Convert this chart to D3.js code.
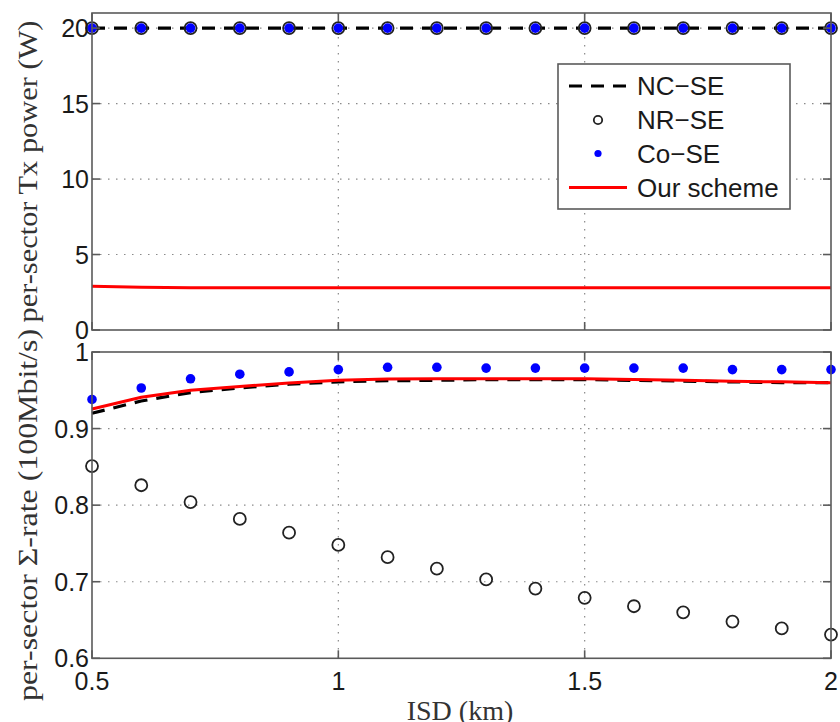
<!DOCTYPE html>
<html>
<head>
<meta charset="utf-8">
<script src="https://cdn.jsdelivr.net/npm/d3@7"></script>
<style>
  html, body { margin: 0; padding: 0; background: #fff; }
  svg { display: block; }
</style>
</head>
<body>
<script>
// ISD sweep (km)
const isd = [0.5, 0.6, 0.7, 0.8, 0.9, 1.0, 1.1, 1.2, 1.3, 1.4, 1.5, 1.6, 1.7, 1.8, 1.9, 2.0];

// Per-sector Tx power (W)
const powerNC  = [20, 20, 20, 20, 20, 20, 20, 20, 20, 20, 20, 20, 20, 20, 20, 20];
const powerNR  = [20, 20, 20, 20, 20, 20, 20, 20, 20, 20, 20, 20, 20, 20, 20, 20];
const powerCo  = [20, 20, 20, 20, 20, 20, 20, 20, 20, 20, 20, 20, 20, 20, 20, 20];
const powerOur = [2.9, 2.83, 2.8, 2.8, 2.8, 2.8, 2.8, 2.8, 2.8, 2.8, 2.8, 2.8, 2.8, 2.8, 2.8, 2.8];

// Per-sector sum rate (100 Mbit/s)
const rateNC  = [0.920, 0.936, 0.947, 0.953, 0.958, 0.961, 0.9625, 0.963, 0.964, 0.964, 0.964, 0.963, 0.962, 0.961, 0.960, 0.960];
const rateNR  = [0.851, 0.826, 0.804, 0.782, 0.764, 0.748, 0.732, 0.717, 0.703, 0.691, 0.679, 0.668, 0.660, 0.648, 0.639, 0.631];
const rateCo  = [0.938, 0.953, 0.965, 0.971, 0.974, 0.977, 0.980, 0.980, 0.979, 0.979, 0.979, 0.979, 0.979, 0.977, 0.977, 0.977];
const rateOur = [0.9256, 0.941, 0.950, 0.955, 0.9595, 0.963, 0.9647, 0.965, 0.965, 0.965, 0.965, 0.964, 0.963, 0.9617, 0.961, 0.960];

// Axis ticks
const xTicks = [0.5, 1, 1.5, 2];
const xTickLabels = ["0.5", "1", "1.5", "2"];
const powerTicks = [0, 5, 10, 15, 20];
const rateTicks = [0.6, 0.7, 0.8, 0.9, 1];
const rateTickLabels = ["0.6", "0.7", "0.8", "0.9", "1"];

const legendNames = ["NC\u2212SE", "NR\u2212SE", "Co\u2212SE", "Our scheme"];

const W = 840, H = 722;
const svg = d3.select("body").append("svg").attr("width", W).attr("height", H);

const left = 92, right = 831;
const x = d3.scaleLinear().domain([0.5, 2]).range([left, right]);

const tickFont = "'Liberation Sans', Arial, Helvetica, sans-serif";
const serif = "'Liberation Serif', 'Times New Roman', serif";
const axisColor = "#5a5a5a";
const gridColor = "#8a8a8a";
const textColor = "#1a1a1a";

function panel(top, bottom, yDomain, yTicks, yLabels, gridY, series) {
  const y = d3.scaleLinear().domain(yDomain).range([bottom, top]);
  const g = svg.append("g");

  // dotted grid
  const gridX = [1, 1.5];
  g.selectAll(".gx").data(gridX).enter().append("line")
    .attr("x1", d => x(d)).attr("x2", d => x(d))
    .attr("y1", top).attr("y2", bottom)
    .attr("stroke", gridColor).attr("stroke-width", 1.2)
    .attr("stroke-dasharray", "1.5,6.5");
  g.selectAll(".gy").data(gridY).enter().append("line")
    .attr("x1", left).attr("x2", right)
    .attr("y1", d => y(d)).attr("y2", d => y(d))
    .attr("stroke", gridColor).attr("stroke-width", 1.2)
    .attr("stroke-dasharray", "1.5,6.5");

  // data
  const pts = (vals) => isd.map((v, i) => [v, vals[i]]);
  const line = d3.line().x(d => x(d[0])).y(d => y(d[1]));

  g.append("path").datum(pts(series.nc))
    .attr("d", line).attr("fill", "none")
    .attr("stroke", "#000").attr("stroke-width", 3.2)
    .attr("stroke-dasharray", "13,9");

  g.selectAll(".nr").data(pts(series.nr)).enter().append("circle")
    .attr("cx", d => x(d[0])).attr("cy", d => y(d[1])).attr("r", 6)
    .attr("fill", "none").attr("stroke", "#222").attr("stroke-width", 1.8);

  g.selectAll(".co").data(pts(series.co)).enter().append("circle")
    .attr("cx", d => x(d[0])).attr("cy", d => y(d[1])).attr("r", 4.8)
    .attr("fill", "#0000ff");

  g.append("path").datum(pts(series.our))
    .attr("d", line).attr("fill", "none")
    .attr("stroke", "#ff0000").attr("stroke-width", 3);

  // box
  g.append("rect").attr("x", left).attr("y", top)
    .attr("width", right - left).attr("height", bottom - top)
    .attr("fill", "none").attr("stroke", axisColor).attr("stroke-width", 1.6);

  // inner ticks on all four sides
  const tl = 8;
  xTicks.forEach(t => {
    g.append("line").attr("x1", x(t)).attr("x2", x(t)).attr("y1", bottom).attr("y2", bottom - tl)
      .attr("stroke", axisColor).attr("stroke-width", 1.6);
    g.append("line").attr("x1", x(t)).attr("x2", x(t)).attr("y1", top).attr("y2", top + tl)
      .attr("stroke", axisColor).attr("stroke-width", 1.6);
  });
  yTicks.forEach(t => {
    g.append("line").attr("x1", left).attr("x2", left + tl).attr("y1", y(t)).attr("y2", y(t))
      .attr("stroke", axisColor).attr("stroke-width", 1.6);
    g.append("line").attr("x1", right).attr("x2", right - tl).attr("y1", y(t)).attr("y2", y(t))
      .attr("stroke", axisColor).attr("stroke-width", 1.6);
  });

  // y tick labels
  g.selectAll(".yl").data(yTicks).enter().append("text")
    .attr("x", left - 3).attr("y", d => y(d))
    .attr("dy", "0.36em")
    .attr("text-anchor", "end")
    .attr("font-family", tickFont).attr("font-size", 25)
    .attr("fill", textColor)
    .text((d, i) => yLabels[i]);

  return y;
}

const yPow = panel(13, 330, [0, 21], powerTicks, powerTicks.map(String), [5, 10, 15, 20],
  { nc: powerNC, nr: powerNR, co: powerCo, our: powerOur });
const yRate = panel(352, 658.3, [0.6, 1], rateTicks, rateTickLabels, [0.7, 0.8, 0.9],
  { nc: rateNC, nr: rateNR, co: rateCo, our: rateOur });

// x tick labels (bottom panel)
svg.selectAll(".xl").data(xTicks).enter().append("text")
  .attr("x", d => x(d)).attr("y", 690)
  .attr("text-anchor", "middle")
  .attr("font-family", tickFont).attr("font-size", 25)
  .attr("fill", textColor)
  .text((d, i) => xTickLabels[i]);

// axis titles
svg.append("text")
  .attr("transform", `translate(37,${(13 + 330) / 2}) rotate(-90)`)
  .attr("text-anchor", "middle")
  .attr("font-family", serif).attr("font-size", 28)
  .attr("fill", "#333")
  .attr("textLength", 302).attr("lengthAdjust", "spacingAndGlyphs")
  .text("per-sector Tx power (W)");

svg.append("text")
  .attr("transform", `translate(37,515) rotate(-90)`)
  .attr("text-anchor", "middle")
  .attr("font-family", serif).attr("font-size", 28)
  .attr("fill", "#333")
  .attr("textLength", 372).attr("lengthAdjust", "spacingAndGlyphs")
  .text("per-sector \u03A3-rate (100Mbit/s)");

svg.append("text")
  .attr("x", 460).attr("y", 720)
  .attr("text-anchor", "middle")
  .attr("font-family", serif).attr("font-size", 28)
  .attr("fill", "#333")
  .text("ISD (km)");

// legend
const lg = svg.append("g");
lg.append("rect").attr("x", 558).attr("y", 64).attr("width", 232).attr("height", 145)
  .attr("fill", "#fff").attr("stroke", axisColor).attr("stroke-width", 1.6);
const rowY = [86, 120, 153.5, 187.5];
const lx0 = 569, lx1 = 627, lxm = 598;
lg.append("line").attr("x1", lx0).attr("x2", lx1).attr("y1", rowY[0]).attr("y2", rowY[0])
  .attr("stroke", "#000").attr("stroke-width", 3.2).attr("stroke-dasharray", "13,9");
lg.append("circle").attr("cx", lxm).attr("cy", rowY[1]).attr("r", 4.2)
  .attr("fill", "none").attr("stroke", "#222").attr("stroke-width", 1.8);
lg.append("circle").attr("cx", lxm).attr("cy", rowY[2]).attr("r", 3.6).attr("fill", "#0000ff");
lg.append("line").attr("x1", lx0).attr("x2", lx1).attr("y1", rowY[3]).attr("y2", rowY[3])
  .attr("stroke", "#ff0000").attr("stroke-width", 3);
lg.selectAll(".lt").data(legendNames).enter().append("text")
  .attr("x", 637).attr("y", (d, i) => rowY[i])
  .attr("dy", "0.36em")
  .attr("font-family", tickFont).attr("font-size", 26)
  .attr("fill", textColor)
  .text(d => d);
</script>
</body>
</html>
